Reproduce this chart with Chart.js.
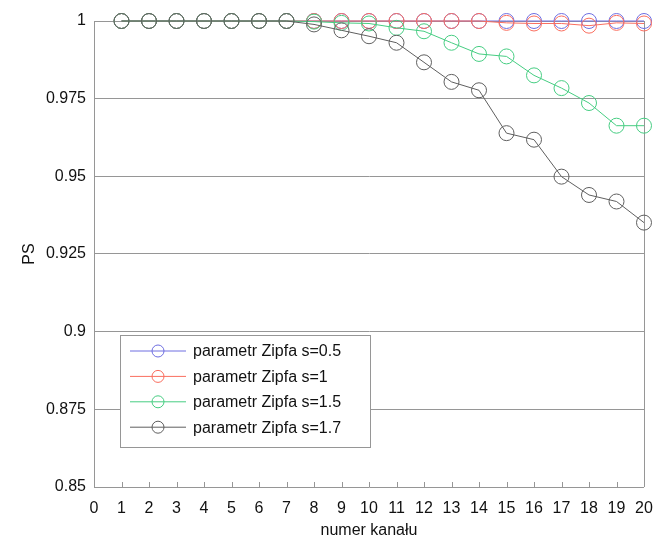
<!DOCTYPE html>
<html>
<head>
<meta charset="utf-8">
<script src="https://cdn.jsdelivr.net/npm/chart.js@4/dist/chart.umd.min.js"></script>
<style>
  html, body { margin: 0; padding: 0; background: #fff; }
  #wrap { width: 653px; height: 540px; }
</style>
</head>
<body>
<div id="wrap"><canvas id="psChart" width="653" height="540"></canvas></div>
<script>
// channel numbers (x axis)
const channels = [1, 2, 3, 4, 5, 6, 7, 8, 9, 10, 11, 12, 13, 14, 15, 16, 17, 18, 19, 20];

// PS values, one array per Zipf parameter
const psS05 = [1, 1, 1, 1, 1, 1, 1, 1, 1, 1, 1, 1, 1, 1, 1, 1, 1, 1, 1, 1];
const psS1  = [1, 1, 1, 1, 1, 1, 1, 1, 1, 1, 1, 1, 1, 1, 0.9994, 0.9992, 0.9992, 0.9985, 0.9994, 0.9992];
const psS15 = [1, 1, 1, 1, 1, 1, 1, 0.9998, 0.9994, 0.9992, 0.9978, 0.9967, 0.993, 0.9894, 0.9886, 0.9825, 0.9784, 0.9736, 0.9663, 0.9663];
const psS17 = [1, 1, 1, 1, 1, 1, 1, 0.9989, 0.997, 0.9951, 0.993, 0.9867, 0.9804, 0.9777, 0.9639, 0.9618, 0.9499, 0.944, 0.9419, 0.9351];

const seriesLabels = ['parametr Zipfa s=0.5', 'parametr Zipfa s=1', 'parametr Zipfa s=1.5', 'parametr Zipfa s=1.7'];
const seriesColors = ['rgb(110, 110, 225)', 'rgb(250, 110, 95)', 'rgb(70, 205, 130)', 'rgb(95, 95, 95)'];
const seriesValues = [psS05, psS1, psS15, psS17];

const GRID = 'rgb(150, 150, 150)';
const FONT = 'Liberation Sans, Arial, sans-serif';

function toPoints(values) {
  return values.map((v, i) => ({ x: channels[i], y: v }));
}

// legend box inside the plot, lower left
const boxLegend = {
  id: 'boxLegend',
  afterDraw(chart) {
    const ctx = chart.ctx;
    const x0 = 120, y0 = 335, w = 250, h = 112;
    ctx.save();
    ctx.fillStyle = '#fff';
    ctx.fillRect(x0, y0, w, h);
    ctx.strokeStyle = GRID;
    ctx.lineWidth = 1;
    ctx.strokeRect(x0 + 0.5, y0 + 0.5, w, h);
    ctx.font = '16px ' + FONT;
    ctx.textBaseline = 'middle';
    chart.data.datasets.forEach((ds, i) => {
      const y = y0 + 16 + i * 25.4;
      ctx.strokeStyle = ds.borderColor;
      ctx.beginPath();
      ctx.moveTo(130, y);
      ctx.lineTo(186, y);
      ctx.stroke();
      ctx.beginPath();
      ctx.arc(158, y, 6, 0, Math.PI * 2);
      ctx.stroke();
      ctx.fillStyle = '#111';
      ctx.fillText(ds.label, 193, y + 1);
    });
    ctx.restore();
  }
};

// right frame line and inward x ticks
const frame = {
  id: 'frame',
  beforeDatasetsDraw(chart) {
    const { ctx, chartArea } = chart;
    const xs = chart.scales.x;
    ctx.save();
    ctx.strokeStyle = GRID;
    ctx.lineWidth = 1;
    ctx.beginPath();
    ctx.moveTo(Math.round(chartArea.right) + 0.5, chartArea.top);
    ctx.lineTo(Math.round(chartArea.right) + 0.5, chartArea.bottom);
    xs.ticks.forEach(t => {
      const px = Math.round(xs.getPixelForValue(t.value)) + 0.5;
      ctx.moveTo(px, chartArea.bottom);
      ctx.lineTo(px, chartArea.bottom - 5);
    });
    ctx.stroke();
    ctx.restore();
  }
};

const ctx = document.getElementById('psChart').getContext('2d');
const chart = new Chart(ctx, {
  type: 'line',
  data: {
    datasets: seriesValues.map((vals, i) => ({
      label: seriesLabels[i],
      data: toPoints(vals),
      borderColor: seriesColors[i],
      borderWidth: 1,
      pointStyle: 'circle',
      pointRadius: 7.5,
      pointHoverRadius: 7.5,
      pointBorderWidth: 1,
      pointBorderColor: seriesColors[i],
      pointBackgroundColor: 'rgba(0,0,0,0)',
      tension: 0,
      clip: false,
      order: 3 - i
    }))
  },
  options: {
    responsive: false,
    animation: false,
    layout: { autoPadding: false, padding: { top: 21, right: 9, left: 0, bottom: 0 } },
    plugins: {
      legend: { display: false },
      tooltip: { enabled: false }
    },
    scales: {
      x: {
        type: 'linear',
        min: 0,
        max: 20,
        afterFit(scale) {
          scale.height = 53;
          scale.paddingLeft = 0;
          scale.paddingRight = 0;
        },
        ticks: { stepSize: 1, color: '#111', font: { family: FONT, size: 16 }, padding: 12, maxRotation: 0 },
        grid: { display: false, drawTicks: false },
        border: { display: false },
        title: { display: true, text: 'numer kanału', color: '#111', font: { family: FONT, size: 16 }, padding: { top: 0, bottom: 0 } }
      },
      y: {
        min: 0.85,
        max: 1,
        afterFit(scale) { scale.width = 94; },
        ticks: {
          stepSize: 0.025,
          color: '#111',
          font: { family: FONT, size: 16 },
          padding: 8,
          callback: v => String(+v.toFixed(3))
        },
        grid: { color: GRID, lineWidth: 1, drawTicks: false },
        border: { display: true, color: GRID },
        title: { display: true, text: 'PS', color: '#111', font: { family: FONT, size: 16 }, padding: { top: 20, bottom: 0 } }
      }
    }
  },
  plugins: [frame, boxLegend]
});
</script>
</body>
</html>
